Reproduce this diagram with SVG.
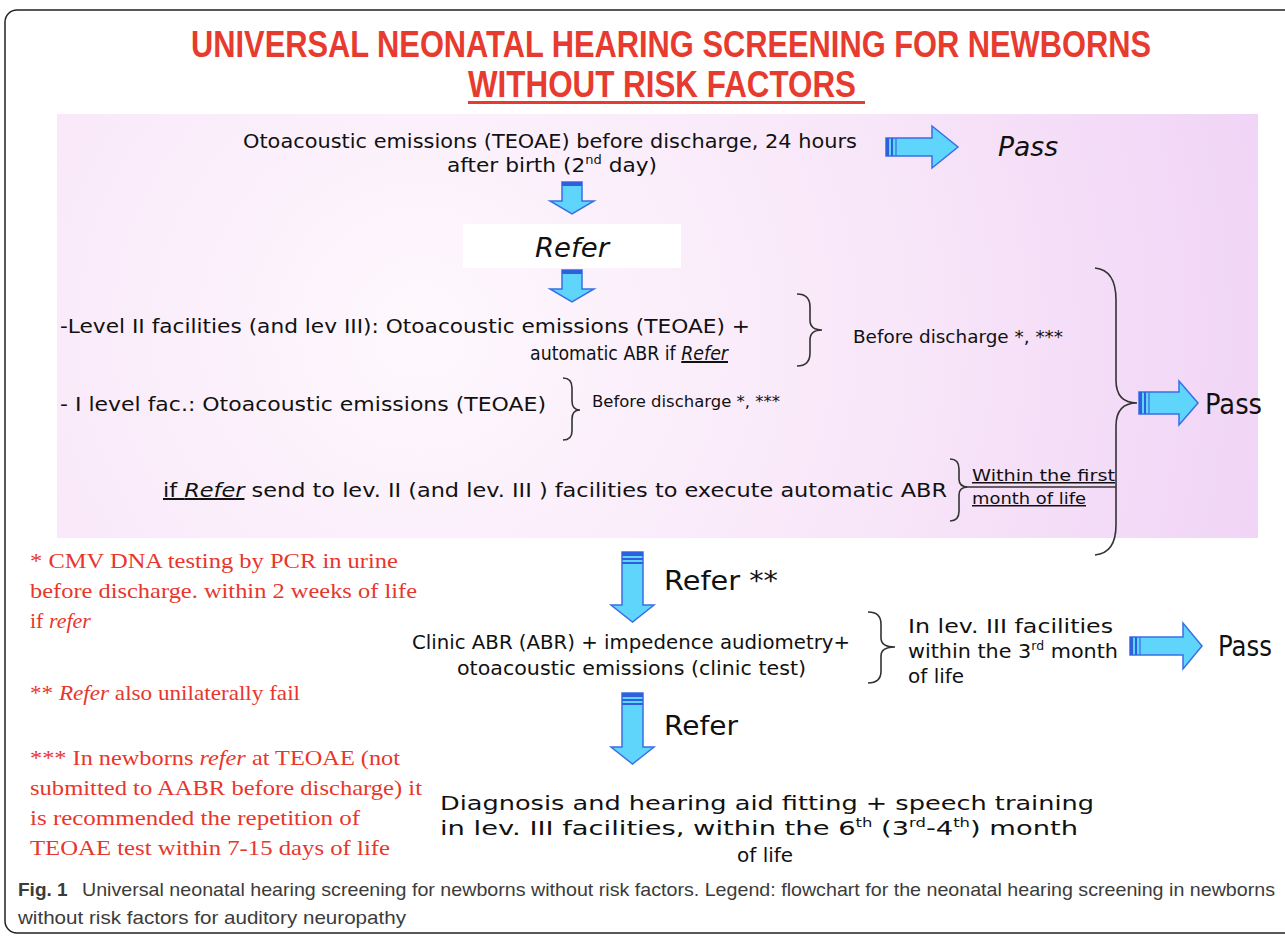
<svg xmlns="http://www.w3.org/2000/svg" width="1285" height="938" viewBox="0 0 1285 938">
<style>
.c{font-family:"DejaVu Sans","Liberation Sans",sans-serif;fill:#111}
.f20{font-size:20px}
.f26{font-size:26px}
.f28{font-size:28px}
.f17{font-size:17px}
.f16{font-size:16px}
.f15{font-size:15px}
.sup{font-size:12px}
.i{font-style:italic}
.u{text-decoration:underline}
.r{font-family:"Liberation Serif",serif;fill:#e8362c;font-size:22px}
.t{font-family:"Liberation Sans",sans-serif;font-weight:bold;fill:#e63b2e;font-size:36px}
.cap{font-family:"Liberation Sans",sans-serif;fill:#3b3b3b;font-size:19px}
.arr{fill:#5fd5fb;stroke:#3a6ee6;stroke-width:1.5}
.band{fill:#2e60de}
.br{fill:none;stroke:#333;stroke-width:1.6}
</style>
<defs>
<radialGradient id="pg" gradientUnits="userSpaceOnUse" cx="420" cy="330" r="880">
<stop offset="0" stop-color="#fef8fd"/>
<stop offset="0.55" stop-color="#f8e6f9"/>
<stop offset="1" stop-color="#f0d4f6"/>
</radialGradient>
</defs>
<rect x="0" y="0" width="1285" height="938" fill="#fff"/>
<rect x="5" y="10" width="1300" height="923" rx="12" fill="none" stroke="#222" stroke-width="1.5"/>

<g id="title">
<text class="t" x="191" y="57" textLength="960" lengthAdjust="spacingAndGlyphs">UNIVERSAL NEONATAL HEARING SCREENING FOR NEWBORNS</text>
<text class="t" x="468" y="97" textLength="388" lengthAdjust="spacingAndGlyphs">WITHOUT RISK FACTORS</text>
<rect x="468" y="101" width="397" height="3" fill="#e63b2e"/>
</g>

<g id="panel">
<rect x="57" y="114" width="1201" height="424" fill="url(#pg)"/>
</g>

<g id="n-teoae">
<text class="c f20" x="243" y="148" textLength="614" lengthAdjust="spacingAndGlyphs">Otoacoustic emissions (TEOAE) before discharge, 24 hours</text>
<text class="c f20" x="447" y="172" textLength="210" lengthAdjust="spacingAndGlyphs">after birth (2<tspan class="sup" dy="-8">nd</tspan><tspan dy="8"> day)</tspan></text>
</g>

<g id="pass1">
<text class="c i f26" x="998" y="156" textLength="60" lengthAdjust="spacingAndGlyphs">Pass</text>
</g>

<g id="refer1">
<rect x="463" y="224" width="218" height="44" fill="#fff"/>
<text class="c i f26" x="535" y="257" textLength="74" lengthAdjust="spacingAndGlyphs">Refer</text>
</g>

<g id="level2">
<text class="c f20" x="60" y="333" textLength="690" lengthAdjust="spacingAndGlyphs">-Level II facilities (and lev III):  Otoacoustic emissions (TEOAE) +</text>
<text class="c f20" x="530" y="360" textLength="198" lengthAdjust="spacingAndGlyphs">automatic ABR  if <tspan class="i u">Refer</tspan></text>
<text class="c f17" x="853" y="343" textLength="210" lengthAdjust="spacingAndGlyphs">Before discharge *, ***</text>
</g>

<g id="level1">
<text class="c f20" x="60" y="411" textLength="486" lengthAdjust="spacingAndGlyphs">- I level fac.:  Otoacoustic emissions (TEOAE)</text>
<text class="c f16" x="592" y="407" textLength="188" lengthAdjust="spacingAndGlyphs">Before discharge *, ***</text>
</g>

<g id="ifrefer">
<text class="c f20" x="163" y="497" textLength="784" lengthAdjust="spacingAndGlyphs"><tspan class="u">if <tspan class="i">Refer</tspan></tspan> send to lev. II (and lev. III ) facilities to execute  automatic ABR</text>
<text class="c u f15" x="972" y="481" textLength="143" lengthAdjust="spacingAndGlyphs">Within the first</text>
<text class="c u f15" x="972" y="504" textLength="114" lengthAdjust="spacingAndGlyphs">month of life</text>
</g>

<g id="pass2">
<text class="c f28" x="1205" y="414" textLength="57" lengthAdjust="spacingAndGlyphs">Pass</text>
</g>

<g id="footnotes">
<text class="r" x="30" y="568" textLength="368" lengthAdjust="spacingAndGlyphs">* CMV DNA testing by PCR in urine</text>
<text class="r" x="30" y="598" textLength="387" lengthAdjust="spacingAndGlyphs">before discharge. within 2 weeks of life</text>
<text class="r" x="30" y="628">if <tspan class="i">refer</tspan></text>
<text class="r" x="30" y="700" textLength="270" lengthAdjust="spacingAndGlyphs">**  <tspan class="i">Refer</tspan> also unilaterally fail</text>
<text class="r" x="30" y="765" textLength="370" lengthAdjust="spacingAndGlyphs">*** In newborns <tspan class="i">refer</tspan> at TEOAE (not</text>
<text class="r" x="30" y="795" textLength="392" lengthAdjust="spacingAndGlyphs">submitted to AABR before discharge) it</text>
<text class="r" x="30" y="825" textLength="330" lengthAdjust="spacingAndGlyphs">is recommended the repetition of</text>
<text class="r" x="30" y="855" textLength="360" lengthAdjust="spacingAndGlyphs">TEOAE test within 7-15 days of life</text>
</g>

<g id="refer2">
<text class="c f26" x="664" y="590" textLength="114" lengthAdjust="spacingAndGlyphs">Refer **</text>
</g>

<g id="clinic">
<text class="c f20" x="412" y="649" textLength="438" lengthAdjust="spacingAndGlyphs">Clinic ABR (ABR) + impedence audiometry+</text>
<text class="c f20" x="457" y="675" textLength="349" lengthAdjust="spacingAndGlyphs">otoacoustic emissions (clinic test)</text>
<text class="c f20" x="908" y="633" textLength="205" lengthAdjust="spacingAndGlyphs">In lev. III facilities</text>
<text class="c f20" x="908" y="658" textLength="210" lengthAdjust="spacingAndGlyphs">within the 3<tspan class="sup" dy="-8">rd</tspan><tspan dy="8"> month</tspan></text>
<text class="c f20" x="908" y="683">of life</text>
</g>

<g id="pass3">
<text class="c f28" x="1218" y="656" textLength="54" lengthAdjust="spacingAndGlyphs">Pass</text>
</g>

<g id="refer3">
<text class="c f26" x="664" y="735" textLength="74" lengthAdjust="spacingAndGlyphs">Refer</text>
</g>

<g id="diagnosis">
<text class="c f20" x="440" y="810" textLength="654" lengthAdjust="spacingAndGlyphs">Diagnosis and hearing aid fitting + speech training</text>
<text class="c f20" x="440" y="835" textLength="638" lengthAdjust="spacingAndGlyphs">in lev. III facilities, within the 6<tspan class="sup" dy="-8">th</tspan><tspan dy="8"> (3</tspan><tspan class="sup" dy="-8">rd</tspan><tspan dy="8">-4</tspan><tspan class="sup" dy="-8">th</tspan><tspan dy="8">) month</tspan></text>
<text class="c f20" x="737" y="862">of life</text>
</g>

<g id="caption">
<text class="cap" x="18" y="896" font-weight="bold" fill="#222">Fig. 1</text>
<text class="cap" x="82" y="896" textLength="1193" lengthAdjust="spacingAndGlyphs">Universal neonatal hearing screening for newborns without risk factors. Legend: flowchart for the neonatal hearing screening in newborns</text>
<text class="cap" x="18" y="924" textLength="388" lengthAdjust="spacingAndGlyphs">without risk factors for auditory neuropathy</text>
</g>

<g id="connectors">
<path class="arr" d="M562,182 H582 V201 H594 L572,214 L550,201 H562 Z"/>
<rect class="band" x="562" y="182" width="20" height="4"/>
<path class="arr" d="M562,270 H582 V289 H594 L572,302 L550,289 H562 Z"/>
<rect class="band" x="562" y="270" width="20" height="4"/>
<path class="arr" d="M622,552 H643 V605 H654 L632.5,622 L611,605 H622 Z"/>
<rect class="band" x="622" y="552" width="21" height="4"/>
<rect class="band" x="622" y="558" width="21" height="2"/>
<rect class="band" x="622" y="562" width="21" height="2"/>
<path class="arr" d="M622,693 H643 V747 H654 L632.5,764 L611,747 H622 Z"/>
<rect class="band" x="622" y="693" width="21" height="4"/>
<rect class="band" x="622" y="699" width="21" height="2"/>
<rect class="band" x="622" y="703" width="21" height="2"/>
<path class="arr" d="M886,138 H932 V126 L958,147 L932,168 V156 H886 Z"/>
<rect class="band" x="886" y="138" width="3" height="18"/>
<rect class="band" x="891" y="138" width="2" height="18"/>
<line x1="896" y1="138" x2="896" y2="156" stroke="#3a6ee6" stroke-width="1.2"/>
<path class="arr" d="M1139,392 H1179 V381 L1198,403 L1179,425 V414 H1139 Z"/>
<rect class="band" x="1139" y="392" width="3" height="22"/>
<rect class="band" x="1144" y="392" width="2" height="22"/>
<line x1="1149" y1="392" x2="1149" y2="414" stroke="#3a6ee6" stroke-width="1.2"/>
<path class="arr" d="M1130,637 H1183 V623 L1202,646 L1183,669 V655 H1130 Z"/>
<rect class="band" x="1130" y="637" width="3" height="18"/>
<rect class="band" x="1135" y="637" width="2" height="18"/>
<line x1="1140" y1="637" x2="1140" y2="655" stroke="#3a6ee6" stroke-width="1.2"/>
<path class="br" d="M797,294 Q810,294 810,307 L810,320 Q810,330 822,330 Q810,330 810,340 L810,353 Q810,366 797,366"/>
<path class="br" d="M563,378 Q572,378 572,388 L572,401 Q572,410 580,410 Q572,410 572,419 L572,431 Q572,440 563,440"/>
<path class="br" d="M950,459 Q959,459 959,469 L959,479 Q959,487 968,487 Q959,487 959,495 L959,511 Q959,521 950,521"/>
<path class="br" d="M968,487 H1116"/>
<path class="br" d="M1095,268 Q1116,270 1116,300 L1116,380 Q1116,403 1137,403 Q1116,403 1116,426 L1116,525 Q1116,553 1095,555"/>
<path class="br" d="M868,612 Q881,612 881,624 L881,638 Q881,647 895,647 Q881,647 881,656 L881,671 Q881,683 868,683"/>
</g>
</svg>
